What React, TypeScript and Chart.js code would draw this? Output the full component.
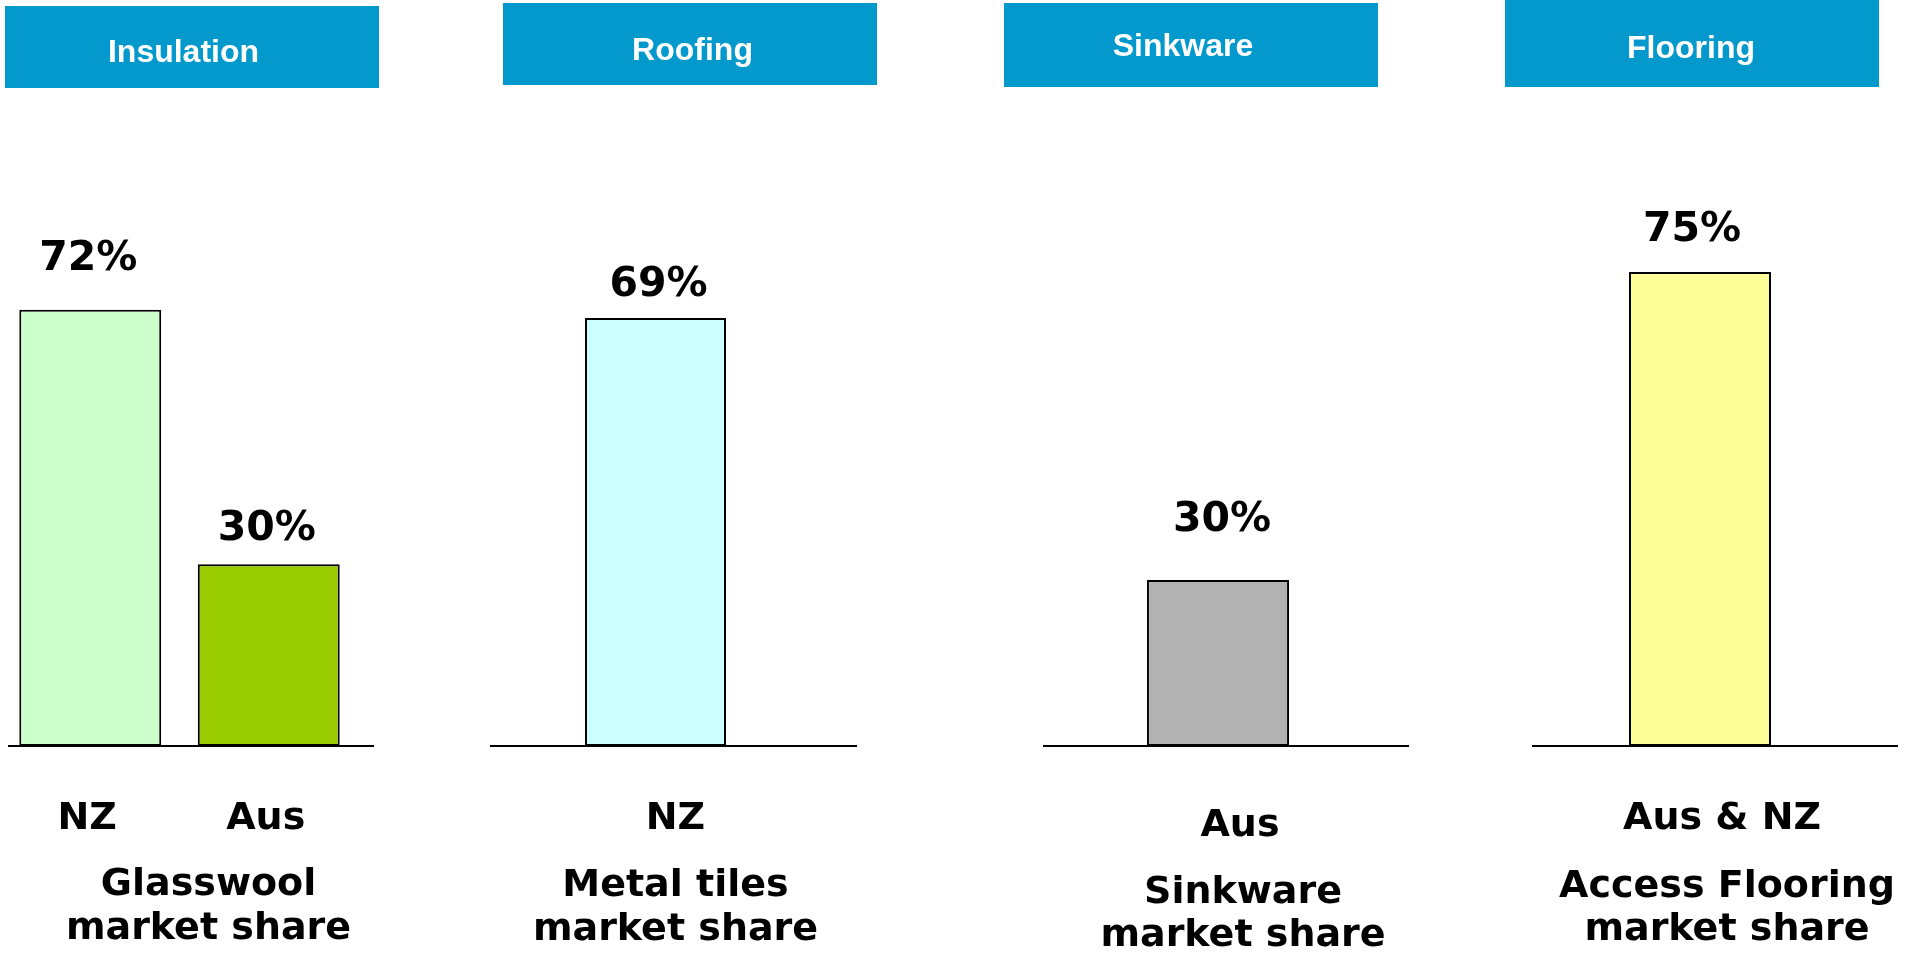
import React, { useEffect, useRef } from "react";
import { Chart, registerables } from "chart.js";

Chart.register(...registerables);

// ---------- data ----------
const headerLabels = ["Insulation", "Roofing", "Sinkware", "Flooring"];

const insulationCategories = ["NZ", "Aus"];
const insulationValues = [72, 30];

const roofingCategories = ["NZ"];
const roofingValues = [69];

const sinkwareCategories = ["Aus"];
const sinkwareValues = [30];

const flooringCategories = ["Aus & NZ"];
const flooringValues = [75];

const productTitles = [
  ["Glasswool", "market share"],
  ["Metal tiles", "market share"],
  ["Sinkware", "market share"],
  ["Access Flooring", "market share"],
];

const axisMax = [100, 97.7, 109.5, 95.9];

// ---------- styles ----------
const HEADER_BG = "#0399CC";
const barColors = [["#CCFFCC", "#99CC00"], ["#CCFFFF"], ["#B2B2B2"], ["#FFFF99"]];
const BOLD_FONT = "'DejaVu Sans', Verdana, sans-serif";
const HEADER_FONT = "'Liberation Sans', Arial, sans-serif";
const PAGE_H = 955;
const PLOT_TOP = 140;
const PLOT_BOTTOM = 746;
const TEXT_SIZE = 38;
const VALUE_SIZE = 41;
const TICK_LINE = 1.2;

const panelData = [
  { categories: insulationCategories, values: insulationValues },
  { categories: roofingCategories, values: roofingValues },
  { categories: sinkwareCategories, values: sinkwareValues },
  { categories: flooringCategories, values: flooringValues },
];

const layout = [
  {
    left: 0, width: 380,
    header: { x: 5, y: 6, w: 374, h: 82, tx: 183.5, ty: 53 },
    padL: 1, padR: 22, barPct: 0.795, base: [8, 374],
    tickPad: 50, labelOffset: -3, valueDy: [50, 35], valueDx: -2,
    titleDx: 29, titleDy: [139, 183],
  },
  {
    left: 480, width: 400,
    header: { x: 23, y: 3, w: 374, h: 82, tx: 212.5, ty: 51.5 },
    padL: 10, padR: 59, barPct: 0.426, base: [10, 377],
    tickPad: 50, labelOffset: 20, valueDy: [32.5], valueDx: 3,
    titleDx: 20, titleDy: [140, 184],
  },
  {
    left: 960, width: 460,
    header: { x: 44, y: 3, w: 374, h: 84, tx: 223, ty: 47 },
    padL: 83, padR: 27, barPct: 0.406, base: [83, 449],
    tickPad: 57, labelOffset: 22, valueDy: [59.5], valueDx: 4,
    titleDx: 25, titleDy: [147, 190],
  },
  {
    left: 1440, width: 471,
    header: { x: 65, y: 0, w: 374, h: 87, tx: 251, ty: 49 },
    padL: 92, padR: 43, barPct: 0.4226, base: [92, 458],
    tickPad: 50, labelOffset: 22, valueDy: [41.5], valueDx: -8,
    titleDx: 27, titleDy: [141, 184],
  },
];

function Panel({ index }: { index: number }) {
  const ref = useRef<HTMLCanvasElement | null>(null);
  const L = layout[index];
  const D = panelData[index];

  useEffect(() => {
    const canvas = ref.current;
    if (!canvas) return;

    const decor = {
      id: "decor",
      beforeDraw(chart: any) {
        const ctx = chart.ctx;
        const h = L.header;
        ctx.save();
        ctx.fillStyle = HEADER_BG;
        ctx.fillRect(h.x, h.y, h.w, h.h);
        ctx.fillStyle = "#FFFFFF";
        ctx.font = `bold 32px ${HEADER_FONT}`;
        ctx.textAlign = "center";
        ctx.textBaseline = "middle";
        ctx.fillText(headerLabels[index], h.tx, h.ty);
        ctx.restore();
      },
      afterDatasetsDraw(chart: any) {
        const ctx = chart.ctx;
        const area = chart.chartArea;
        ctx.save();
        // baseline
        ctx.strokeStyle = "#000000";
        ctx.lineWidth = 2;
        ctx.beginPath();
        ctx.moveTo(L.base[0], area.bottom);
        ctx.lineTo(L.base[1], area.bottom);
        ctx.stroke();
        // value labels
        ctx.fillStyle = "#000000";
        ctx.font = `bold ${VALUE_SIZE}px ${BOLD_FONT}`;
        ctx.textAlign = "center";
        ctx.textBaseline = "middle";
        const meta = chart.getDatasetMeta(0);
        meta.data.forEach((bar: any, i: number) => {
          const v = chart.data.datasets[0].data[i];
          ctx.fillText(`${v}%`, bar.x + L.valueDx, bar.y - L.valueDy[i]);
        });
        // product title
        ctx.font = `bold ${TEXT_SIZE}px ${BOLD_FONT}`;
        const cx = (area.left + area.right) / 2 + L.titleDx;
        productTitles[index].forEach((line, i) => {
          ctx.fillText(line, cx, area.bottom + L.titleDy[i]);
        });
        ctx.restore();
      },
    };

    const tickBlock = 2 * L.tickPad + TEXT_SIZE * TICK_LINE;
    const padBottom = PAGE_H - PLOT_BOTTOM - tickBlock;

    const chart = new Chart(canvas, {
      type: "bar",
      data: {
        labels: D.categories,
        datasets: [
          {
            data: D.values,
            backgroundColor: barColors[index],
            borderColor: "#000000",
            borderWidth: 2,
            borderSkipped: false,
            barPercentage: L.barPct,
            categoryPercentage: 1,
          },
        ],
      },
      options: {
        responsive: false,
        animation: false,
        devicePixelRatio: 1,
        layout: {
          padding: { top: PLOT_TOP, bottom: padBottom, left: L.padL, right: L.padR },
        },
        plugins: {
          legend: { display: false },
          tooltip: { enabled: false },
          title: { display: false },
        },
        scales: {
          x: {
            display: true,
            grid: { display: false, drawTicks: false },
            border: { display: false },
            ticks: {
              color: "#000000",
              padding: L.tickPad,
              labelOffset: L.labelOffset,
              maxRotation: 0,
              autoSkip: false,
              font: { family: BOLD_FONT, size: TEXT_SIZE, weight: "bold", lineHeight: TICK_LINE },
            },
          },
          y: {
            display: false,
            min: 0,
            max: axisMax[index],
          },
        },
      },
      plugins: [decor],
    });

    return () => chart.destroy();
  }, [index]);

  return (
    <canvas
      ref={ref}
      width={L.width}
      height={PAGE_H}
      style={{ position: "absolute", left: L.left, top: 0, width: L.width, height: PAGE_H }}
    />
  );
}

export default function App() {
  return (
    <div
      style={{
        position: "absolute",
        left: 0,
        top: 0,
        width: 1911,
        height: PAGE_H,
        background: "#FFFFFF",
        overflow: "hidden",
      }}
    >
      {layout.map((_, i) => (
        <Panel key={i} index={i} />
      ))}
    </div>
  );
}
